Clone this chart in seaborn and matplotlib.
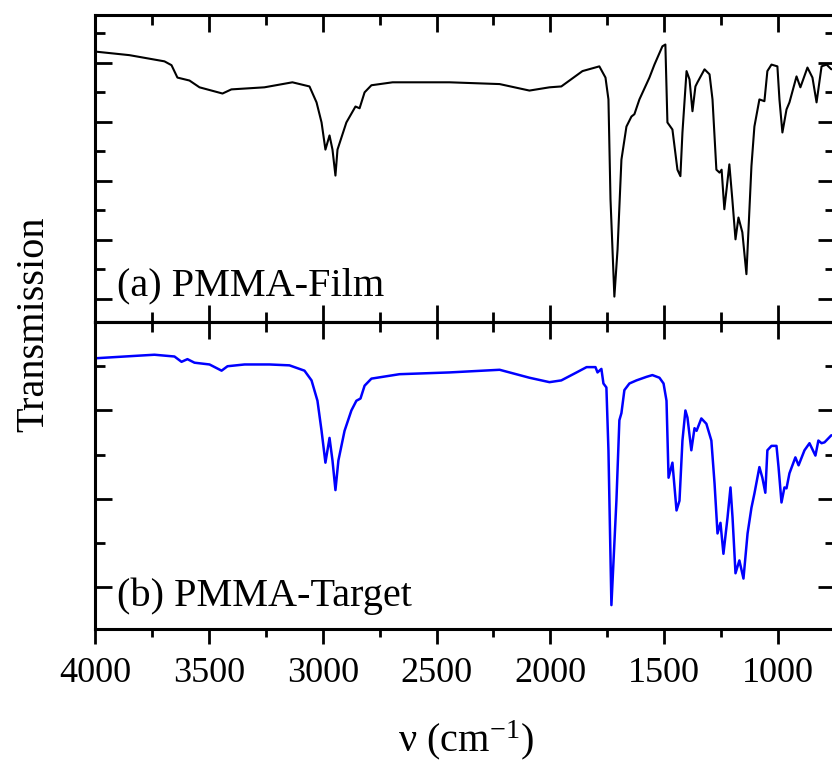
import numpy as np
import pandas as pd
import matplotlib
matplotlib.use("Agg")
import matplotlib.pyplot as plt
from matplotlib.ticker import MultipleLocator, NullFormatter
import seaborn as sns

# ---- data ----
film_wn = [3998, 3849, 3695, 3664, 3638, 3585, 3541, 3440, 3401, 3256, 3133, 3058, 3027, 3005,
           2988, 2970, 2957, 2944, 2935, 2896, 2856, 2838, 2816, 2786, 2693, 2443, 2223, 2092,
           2004, 1952, 1859, 1785, 1758, 1745, 1736, 1719, 1705, 1688, 1666, 1644, 1631, 1609,
           1565, 1543, 1508, 1495, 1486, 1464, 1442, 1429, 1420, 1402, 1389, 1376, 1363, 1354,
           1323, 1301, 1288, 1271, 1257, 1248, 1236, 1214, 1201, 1187, 1174, 1157, 1139, 1117,
           1104, 1082, 1060, 1047, 1029, 1003, 994, 981, 963, 950, 919, 902, 871, 849, 831, 809,
           787, 766]
film_T = [51.9, 51.3, 50.25, 49.6, 47.5, 47.0, 45.85, 44.8, 45.5, 45.85, 46.7, 46.0, 43.3, 39.9,
          35.3, 37.7, 35.3, 30.9, 35.3, 39.9, 42.6, 42.3, 45.0, 46.2, 46.7, 46.7, 46.4, 45.3,
          45.85, 46.0, 48.6, 49.4, 47.5, 43.8, 26.9, 10.4, 18.4, 33.6, 39.2, 40.9, 41.3, 43.8,
          47.5, 49.7, 52.8, 53.1, 39.9, 38.7, 31.9, 30.8, 38.2, 48.6, 47.2, 41.8, 46.0, 46.7,
          48.9, 48.05, 43.8, 31.9, 31.4, 31.9, 25.2, 32.8, 26.9, 20.1, 23.8, 21.3, 14.2, 32.5,
          39.2, 43.8, 43.5, 48.6, 49.7, 49.4, 43.8, 38.2, 42.1, 43.3, 47.7, 45.85, 49.2, 47.5,
          43.3, 49.4, 49.7, 48.9]

target_wn = [3998, 3805, 3739, 3651, 3620, 3594, 3563, 3497, 3444, 3418, 3343, 3234, 3146, 3080,
             3049, 3023, 3005, 2988, 2970, 2957, 2944, 2931, 2904, 2874, 2852, 2834, 2816, 2786,
             2663, 2443, 2223, 2092, 2004, 1952, 1885, 1841, 1802, 1793, 1776, 1767, 1754, 1745,
             1732, 1710, 1697, 1688, 1675, 1653, 1622, 1578, 1552, 1521, 1503, 1490, 1481, 1464,
             1446, 1433, 1420, 1407, 1398, 1381, 1367, 1358, 1337, 1315, 1293, 1279, 1266, 1253,
             1240, 1222, 1209, 1200, 1187, 1170, 1152, 1134, 1117, 1104, 1082, 1069, 1056, 1047,
             1029, 1007, 998, 985, 972, 963, 950, 924, 910, 884, 862, 836, 823, 809, 796, 766]
target_T = [35.9, 36.2, 36.3, 36.1, 35.5, 35.8, 35.4, 35.2, 34.5, 35.0, 35.2, 35.2, 35.1, 34.5,
            33.4, 31.1, 27.7, 24.1, 26.9, 24.35, 21.0, 24.35, 27.7, 30.0, 31.1, 31.35, 32.8, 33.6,
            34.1, 34.3, 34.6, 33.7, 33.2, 33.4, 34.3, 34.9, 34.9, 34.3, 34.7, 33.05, 32.6, 25.5,
            8.0, 19.8, 28.9, 29.7, 32.3, 33.05, 33.4, 33.8, 34.0, 33.7, 33.05, 31.1, 22.4, 24.1,
            18.7, 19.8, 26.6, 30.0, 29.2, 25.5, 28.0, 27.7, 29.1, 28.5, 26.6, 21.75, 16.1, 17.3,
            13.8, 17.9, 21.3, 17.9, 11.6, 13.05, 11.0, 16.1, 19.0, 20.6, 23.6, 22.4, 20.7, 25.5,
            26.0, 26.0, 23.6, 19.6, 21.3, 21.2, 22.9, 24.7, 23.8, 25.5, 26.3, 24.9, 26.6, 26.3,
            26.4, 27.2]

labels = ["(a) PMMA-Film", "(b) PMMA-Target"]
xlabel = "ν (cm$^{-1}$)"
ylabel = "Transmission"
x_ticks = [4000, 3500, 3000, 2500, 2000, 1500, 1000]

df_film = pd.DataFrame({"wn": film_wn, "T": film_T})
df_target = pd.DataFrame({"wn": target_wn, "T": target_T})

# ---- style ----
sns.set_theme(style="ticks")
plt.rcParams["font.family"] = ["Liberation Serif", "DejaVu Serif"]
plt.rcParams["mathtext.fontset"] = "custom"
plt.rcParams["mathtext.rm"] = "Liberation Serif"
plt.rcParams["mathtext.it"] = "Liberation Serif:italic"

W, H = 832, 762
fig = plt.figure(figsize=(W / 100, H / 100), dpi=100)
left = 95 / W
width = 740 / W
ax1 = fig.add_axes([left, (H - 322) / H, width, 307 / H])
ax2 = fig.add_axes([left, (H - 629) / H, width, 307 / H])

sns.lineplot(data=df_film, x="wn", y="T", ax=ax1, color="black", lw=1.5,
             estimator=None, sort=False)
sns.lineplot(data=df_target, x="wn", y="T", ax=ax2, color="#0000ff", lw=1.8,
             estimator=None, sort=False)

TW = 2.0
for ax in (ax1, ax2):
    ax.set_xlim(4000, 750)
    ax.set_xlabel("")
    ax.set_ylabel("")
    ax.xaxis.set_major_locator(MultipleLocator(500))
    ax.xaxis.set_minor_locator(MultipleLocator(250))
    ax.yaxis.set_major_locator(MultipleLocator(10))
    ax.yaxis.set_minor_locator(MultipleLocator(5))
    ax.yaxis.set_major_formatter(NullFormatter())
    for s in ax.spines.values():
        s.set_linewidth(2.2)
        s.set_color("black")
    ax.tick_params(axis="y", which="both", direction="in", left=True, right=True,
                   labelleft=False, width=TW, color="black")
    ax.tick_params(axis="y", which="major", length=12)
    ax.tick_params(axis="y", which="minor", length=7)

ax1.set_ylim(6.1, 58.1)
ax2.set_ylim(5.3, 40.0)

# upper panel: x ticks inward on both sides, no labels
ax1.tick_params(axis="x", which="both", direction="in", top=True, bottom=True,
                labelbottom=False, width=TW, color="black")
ax1.tick_params(axis="x", which="major", length=12)
ax1.tick_params(axis="x", which="minor", length=7)

# lower panel: bottom ticks outward with labels
ax2.set_xticks(x_ticks)
ax2.set_xticklabels([str(v) for v in x_ticks])
ax2.xaxis.set_minor_locator(MultipleLocator(250))
ax2.tick_params(axis="x", which="both", direction="out", top=False, bottom=True,
                width=TW, color="black")
ax2.tick_params(axis="x", which="major", length=11, labelsize=26, pad=9, labelcolor="black")
ax2.tick_params(axis="x", which="minor", length=6)

# lower panel: top ticks inward (secondary axis)
sec = ax2.secondary_xaxis("top")
sec.xaxis.set_major_locator(MultipleLocator(500))
sec.xaxis.set_minor_locator(MultipleLocator(250))
sec.tick_params(axis="x", which="both", direction="in", labeltop=False, width=TW,
                color="black")
sec.tick_params(axis="x", which="major", length=12)
sec.tick_params(axis="x", which="minor", length=7)
sec.spines["top"].set_linewidth(2.2)
sec.spines["top"].set_color("black")

ax1.text(22 / 740, (322 - 295) / 307, labels[0], transform=ax1.transAxes,
         fontsize=29, ha="left", va="baseline", color="black")
ax2.text(22 / 740, (629 - 606) / 307, labels[1], transform=ax2.transAxes,
         fontsize=29, ha="left", va="baseline", color="black")

fig.text(466 / W, (H - 740) / H, xlabel, fontsize=29, ha="center", va="center", color="black")
fig.text(34 / W, (H - 324) / H, ylabel, fontsize=29, rotation=90, ha="center", va="center",
         color="black")

fig.savefig("out.png", dpi=100, facecolor="white")
